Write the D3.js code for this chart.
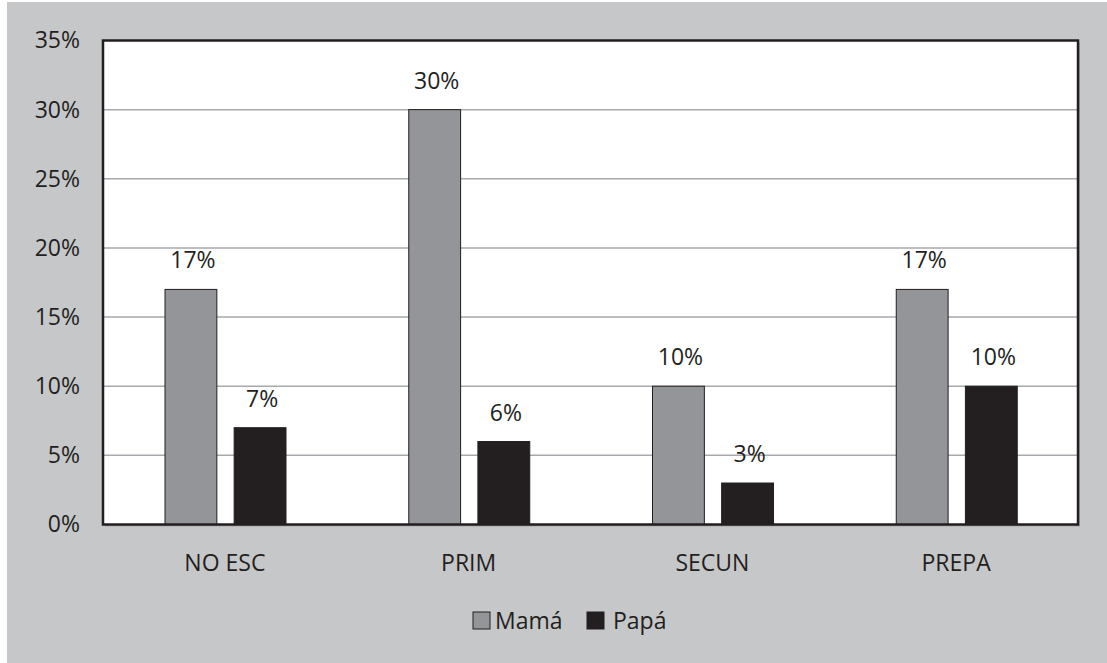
<!DOCTYPE html>
<html>
<head>
<meta charset="utf-8">
<script src="https://cdn.jsdelivr.net/npm/d3@7"></script>
<style>
  html, body { margin: 0; padding: 0; background: #ffffff; }
  svg { display: block; }
  text { font-family: "Open Sans", "Noto Sans", sans-serif; fill: #231f20; }
</style>
</head>
<body>
<svg id="chart" width="1107" height="663"></svg>
<script>
// Nivel de estudios de los padres
const categories = ["NO ESC", "PRIM", "SECUN", "PREPA"];
const seriesNames = ["Mamá", "Papá"];
const mamaValues = [17, 30, 10, 17];
const papaValues = [7, 6, 3, 10];
const yTicks = [0, 5, 10, 15, 20, 25, 30, 35];

const seriesColors = { "Mamá": "#939598", "Papá": "#231f20" };
const ink = "#231f20";

const svg = d3.select("#chart");
const W = 1107, H = 663;

// gray card behind the chart
svg.append("rect")
  .attr("x", 7).attr("y", 2)
  .attr("width", W - 7).attr("height", H - 2)
  .attr("fill", "#c6c7c9");

const plot = { left: 103, right: 1078, top: 40.5, bottom: 524.5 };

const y = d3.scaleLinear().domain([0, 35]).range([plot.bottom, plot.top]);
const x0 = d3.scaleBand().domain(categories).range([plot.left, plot.right]).padding(0);
const x1 = d3.scaleBand().domain(seriesNames).range([62, 183]).paddingInner(0.25);

// drop shadow of the plot frame
svg.append("rect")
  .attr("x", plot.left + 2).attr("y", plot.top + 2)
  .attr("width", plot.right - plot.left).attr("height", plot.bottom - plot.top)
  .attr("fill", "#a5a6a8");

// plot background
svg.append("rect")
  .attr("x", plot.left).attr("y", plot.top)
  .attr("width", plot.right - plot.left).attr("height", plot.bottom - plot.top)
  .attr("fill", "#ffffff");

// horizontal gridlines
svg.append("g")
  .selectAll("line")
  .data(yTicks.filter(t => t > 0 && t < 35))
  .join("line")
  .attr("x1", plot.left).attr("x2", plot.right)
  .attr("y1", d => y(d)).attr("y2", d => y(d))
  .attr("stroke", "#a7a9ac")
  .attr("stroke-width", 1.5);

// bars
const rows = categories.map((c, i) => ({
  cat: c,
  values: [
    { name: "Mamá", value: mamaValues[i] },
    { name: "Papá", value: papaValues[i] }
  ]
}));

const groups = svg.append("g")
  .selectAll("g")
  .data(rows)
  .join("g")
  .attr("transform", d => `translate(${x0(d.cat)},0)`);

groups.selectAll("rect")
  .data(d => d.values)
  .join("rect")
  .attr("x", d => x1(d.name))
  .attr("y", d => y(d.value))
  .attr("width", x1.bandwidth())
  .attr("height", d => y(0) - y(d.value))
  .attr("fill", d => seriesColors[d.name])
  .attr("stroke", ink)
  .attr("stroke-width", 1);

// value labels above bars
groups.selectAll("text")
  .data(d => d.values)
  .join("text")
  .attr("x", d => x1(d.name) + x1.bandwidth() / 2 + 2)
  .attr("y", d => y(d.value) - 21)
  .attr("text-anchor", "middle")
  .attr("font-size", 23)
  .text(d => d.value + "%");

// plot frame
svg.append("rect")
  .attr("x", plot.left).attr("y", plot.top)
  .attr("width", plot.right - plot.left).attr("height", plot.bottom - plot.top)
  .attr("fill", "none")
  .attr("stroke", ink)
  .attr("stroke-width", 2.5);

// y axis
const yAxis = svg.append("g")
  .attr("transform", `translate(${plot.left},0)`)
  .call(d3.axisLeft(y).tickValues(yTicks).tickSize(0).tickPadding(23).tickFormat(d => d + "%"));
yAxis.select(".domain").remove();
yAxis.selectAll("text")
  .attr("font-size", 23)
  .attr("font-family", "'Open Sans', 'Noto Sans', sans-serif")
  .attr("fill", ink);

// x axis labels
const xAxis = svg.append("g")
  .attr("transform", `translate(0,${plot.bottom})`)
  .call(d3.axisBottom(x0).tickSize(0).tickPadding(0));
xAxis.select(".domain").remove();
xAxis.selectAll("text")
  .attr("y", 46)
  .attr("dy", 0)
  .attr("font-size", 23)
  .attr("font-family", "'Open Sans', 'Noto Sans', sans-serif")
  .attr("fill", ink);

// legend
const legendItems = [
  { name: "Mamá", x: 473 },
  { name: "Papá", x: 587 }
];
const legend = svg.append("g");
legend.selectAll("rect")
  .data(legendItems)
  .join("rect")
  .attr("x", d => d.x).attr("y", 612)
  .attr("width", 17).attr("height", 17)
  .attr("fill", d => seriesColors[d.name])
  .attr("stroke", ink)
  .attr("stroke-width", 1);
legend.selectAll("text")
  .data(legendItems)
  .join("text")
  .attr("x", d => d.x + 22 + (d.name === "Papá" ? 4 : 0))
  .attr("y", 629)
  .attr("font-size", 23)
  .text(d => d.name);
</script>
</body>
</html>
